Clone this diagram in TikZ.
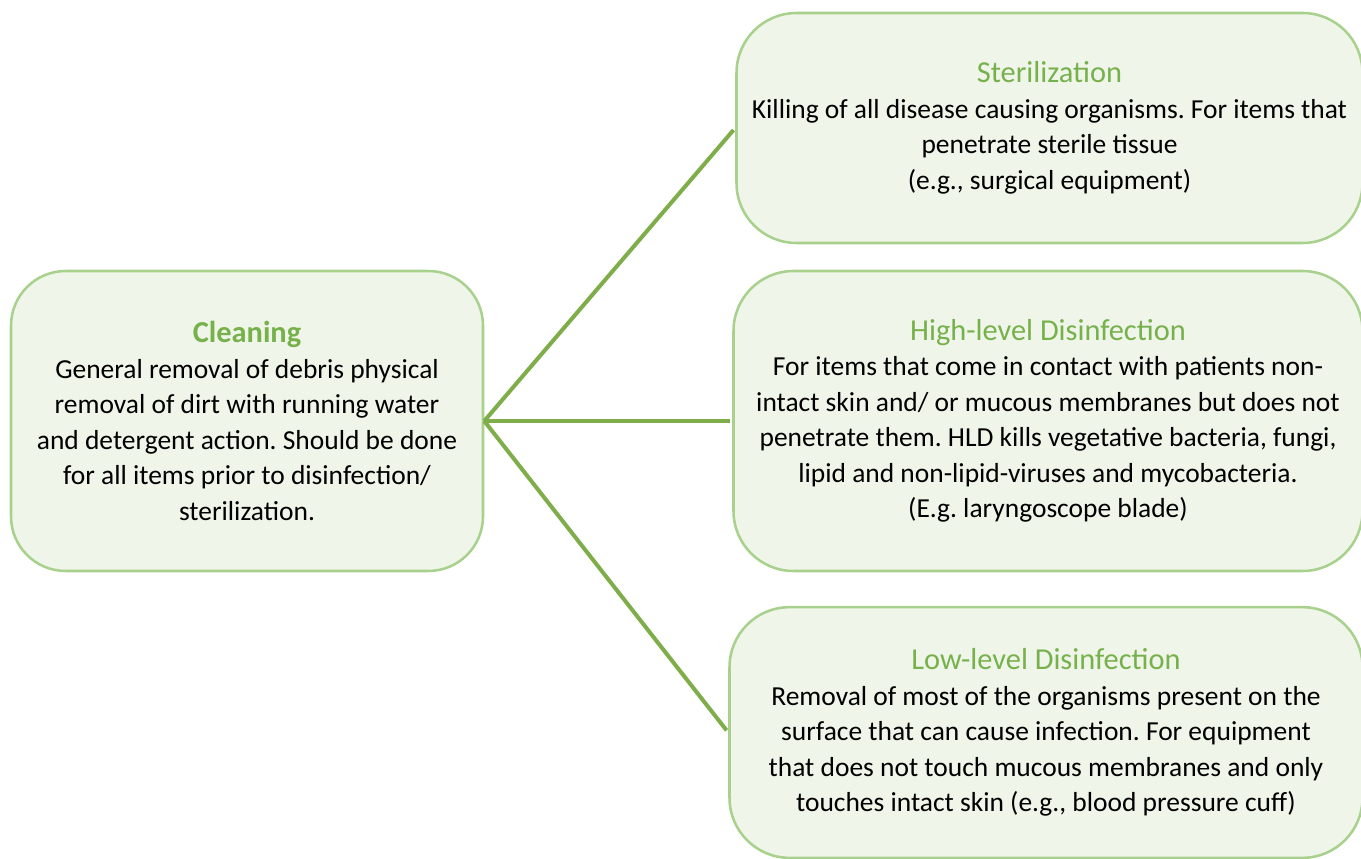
\documentclass[tikz,border=0pt]{standalone}
\usepackage{fontspec}
\setmainfont{Carlito}
\usetikzlibrary{positioning}

\definecolor{boxfill}{HTML}{EFF5E9}
\definecolor{boxline}{HTML}{A9D18E}
\definecolor{titlegreen}{HTML}{77B14C}
\definecolor{linkgreen}{HTML}{7FAD4A}

\newcommand{\boxtitle}[1]{{\fontsize{22.8}{28}\selectfont\color{titlegreen}#1}}

\frenchspacing
\begin{document}
\begin{tikzpicture}[
    x=0.75pt, y=-0.75pt,
    font=\fontsize{20.6}{26.6}\selectfont,
    box/.style={draw=boxline, fill=boxfill, line width=1.9pt, rectangle, align=center, inner sep=0pt},
    cleanbox/.style={box, rounded corners=41pt, minimum width=354pt, minimum height=225pt},
    methodbox/.style={box, rounded corners=45pt},
    link/.style={draw=linkgreen, line width=3pt, shorten >=2pt}
]
\useasboundingbox (0,0) rectangle (1361,859);

% Left: Cleaning
\node[cleanbox] (clean) at (247,421) {\boxtitle{\bfseries Cleaning}\\
  General removal of debris physical\\
  removal of dirt with running water\\
  and detergent action. Should be done\\
  for all items prior to disinfection/\\
  sterilization.};

% Right: the three levels
\node[methodbox, minimum width=469.5pt, minimum height=172.5pt] (steril) at (1049.5,128) {\boxtitle{Sterilization}\\
  Killing of all disease causing organisms. For items that\\
  penetrate sterile tissue\\
  (e.g., surgical equipment)};

\node[methodbox, minimum width=471.75pt, minimum height=225pt] (hld) at (1048,421) {\boxtitle{High-level Disinfection}\\
  For items that come in contact with patients non-\\
  intact skin and/ or mucous membranes but does not\\
  penetrate them. HLD kills vegetative bacteria, fungi,\\
  lipid and non-lipid-viruses and mycobacteria.\\
  (E.g. laryngoscope blade)};

\node[methodbox, minimum width=474.75pt, minimum height=188pt] (lld) at (1046,732.5) {\boxtitle{Low-level Disinfection}\\
  Removal of most of the organisms present on the\\
  surface that can cause infection. For equipment\\
  that does not touch mucous membranes and only\\
  touches intact skin (e.g., blood pressure cuff)};

% Connections
\draw[link] (clean.east) -- (steril.west);
\draw[link] (clean.east) -- (hld.west);
\draw[link] (clean.east) -- (lld.west);

\end{tikzpicture}
\end{document}
